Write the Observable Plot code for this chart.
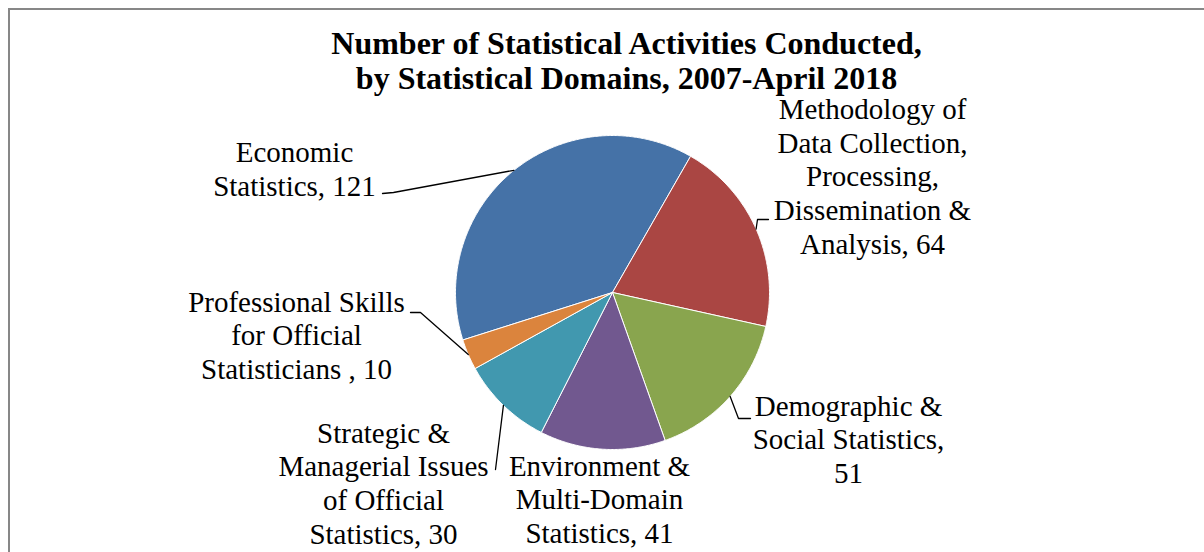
<!DOCTYPE html>
<html><head><meta charset="utf-8">
<script src="https://cdn.jsdelivr.net/npm/d3@7"></script>
<script src="https://cdn.jsdelivr.net/npm/@observablehq/plot@0.6"></script>
<style>
html,body{margin:0;padding:0;background:#fff;overflow:hidden;}
#wrap{position:relative;width:1204px;height:552px;}
#frame{position:absolute;left:8px;top:8px;width:1300px;height:700px;border:2px solid #878787;box-sizing:border-box;pointer-events:none;}
</style></head><body><div id="wrap"><div id="chart"></div><div id="frame"></div></div>
<script>
// ---- data ----
const categories = [
  "Economic Statistics",
  "Methodology of Data Collection, Processing, Dissemination & Analysis",
  "Demographic & Social Statistics",
  "Environment & Multi-Domain Statistics",
  "Strategic & Managerial Issues of Official Statistics",
  "Professional Skills for Official Statisticians"
];
const values = [121, 64, 51, 41, 30, 10];
const labelTexts = [
  "Economic\nStatistics, 121",
  "Methodology of\nData Collection,\nProcessing,\nDissemination &\nAnalysis, 64",
  "Demographic &\nSocial Statistics,\n51",
  "Environment &\nMulti-Domain\nStatistics, 41",
  "Strategic &\nManagerial Issues\nof Official\nStatistics, 30",
  "Professional Skills\nfor Official\nStatisticians , 10"
];
const colors = ["#4572A7", "#AA4643", "#89A54E", "#71588F", "#4198AF", "#DB843D"];
const titleText = "Number of Statistical Activities Conducted,\nby Statistical Domains, 2007-April 2018";

// ---- layout (pixels relative to pie centre) ----
const W = 1204, H = 552, CX = 612, CY = 292, R = 157, START_DEG = -107.6;
const labelPos = [[-318,-124],[260,-117],[236,146],[-13,206],[-229,190],[-316,42]];
const leaderPts = [
  [[-219,-100],[-230,-99]],
  [[145,-73],[156,-73]],
  [[126,126],[138,126]],
  null,
  [[-117,177]],
  [[-192,20],[-202,20]]
];
const titlePos = [14, -232];

// ---- geometry from data ----
const a0 = START_DEG * Math.PI / 180;
const arcs = d3.pie().sort(null).value(d => d).startAngle(a0).endAngle(a0 + 2 * Math.PI)(values);
const slicePts = [];
const leaders = [];
arcs.forEach((a, i) => {
  const k = categories[i];
  const n = Math.max(2, Math.ceil((a.endAngle - a.startAngle) / (Math.PI / 360)));
  slicePts.push({k, x: 0, y: 0});
  for (let j = 0; j <= n; j++) {
    const t = a.startAngle + (a.endAngle - a.startAngle) * j / n;
    slicePts.push({k, x: R * Math.sin(t), y: -R * Math.cos(t)});
  }
  slicePts.push({k, x: 0, y: 0});
  if (leaderPts[i]) {
    const m = (a.startAngle + a.endAngle) / 2;
    leaders.push({k, x: R * Math.sin(m), y: -R * Math.cos(m)});
    leaderPts[i].forEach(p => leaders.push({k, x: p[0], y: p[1]}));
  }
});
const labels = labelTexts.map((t, i) => ({t, x: labelPos[i][0], y: labelPos[i][1]}));

const chart = Plot.plot({
  width: W, height: H, margin: 0,
  x: {domain: [-CX, W - CX], range: [0, W], axis: null},
  y: {domain: [-CY, H - CY], range: [0, H], axis: null},
  color: {domain: categories, range: colors},
  style: {background: "transparent", fontFamily: "'Liberation Serif','Times New Roman',serif", color: "black"},
  marks: [
    Plot.line(slicePts, {x: "x", y: "y", z: "k", fill: "k", stroke: "white", strokeWidth: 1, strokeLinejoin: "round"}),
    Plot.line(leaders, {x: "x", y: "y", z: "k", stroke: "black", strokeWidth: 1.3}),
    Plot.text(labels, {x: "x", y: "y", text: "t", fontSize: 29, lineHeight: 1.16, fill: "black"}),
    Plot.text([{t: titleText, x: titlePos[0], y: titlePos[1]}], {x: "x", y: "y", text: "t", fontSize: 32, fontWeight: "bold", lineHeight: 1.09, fill: "black"})
  ]
});
document.getElementById("chart").appendChild(chart);
</script></body></html>
